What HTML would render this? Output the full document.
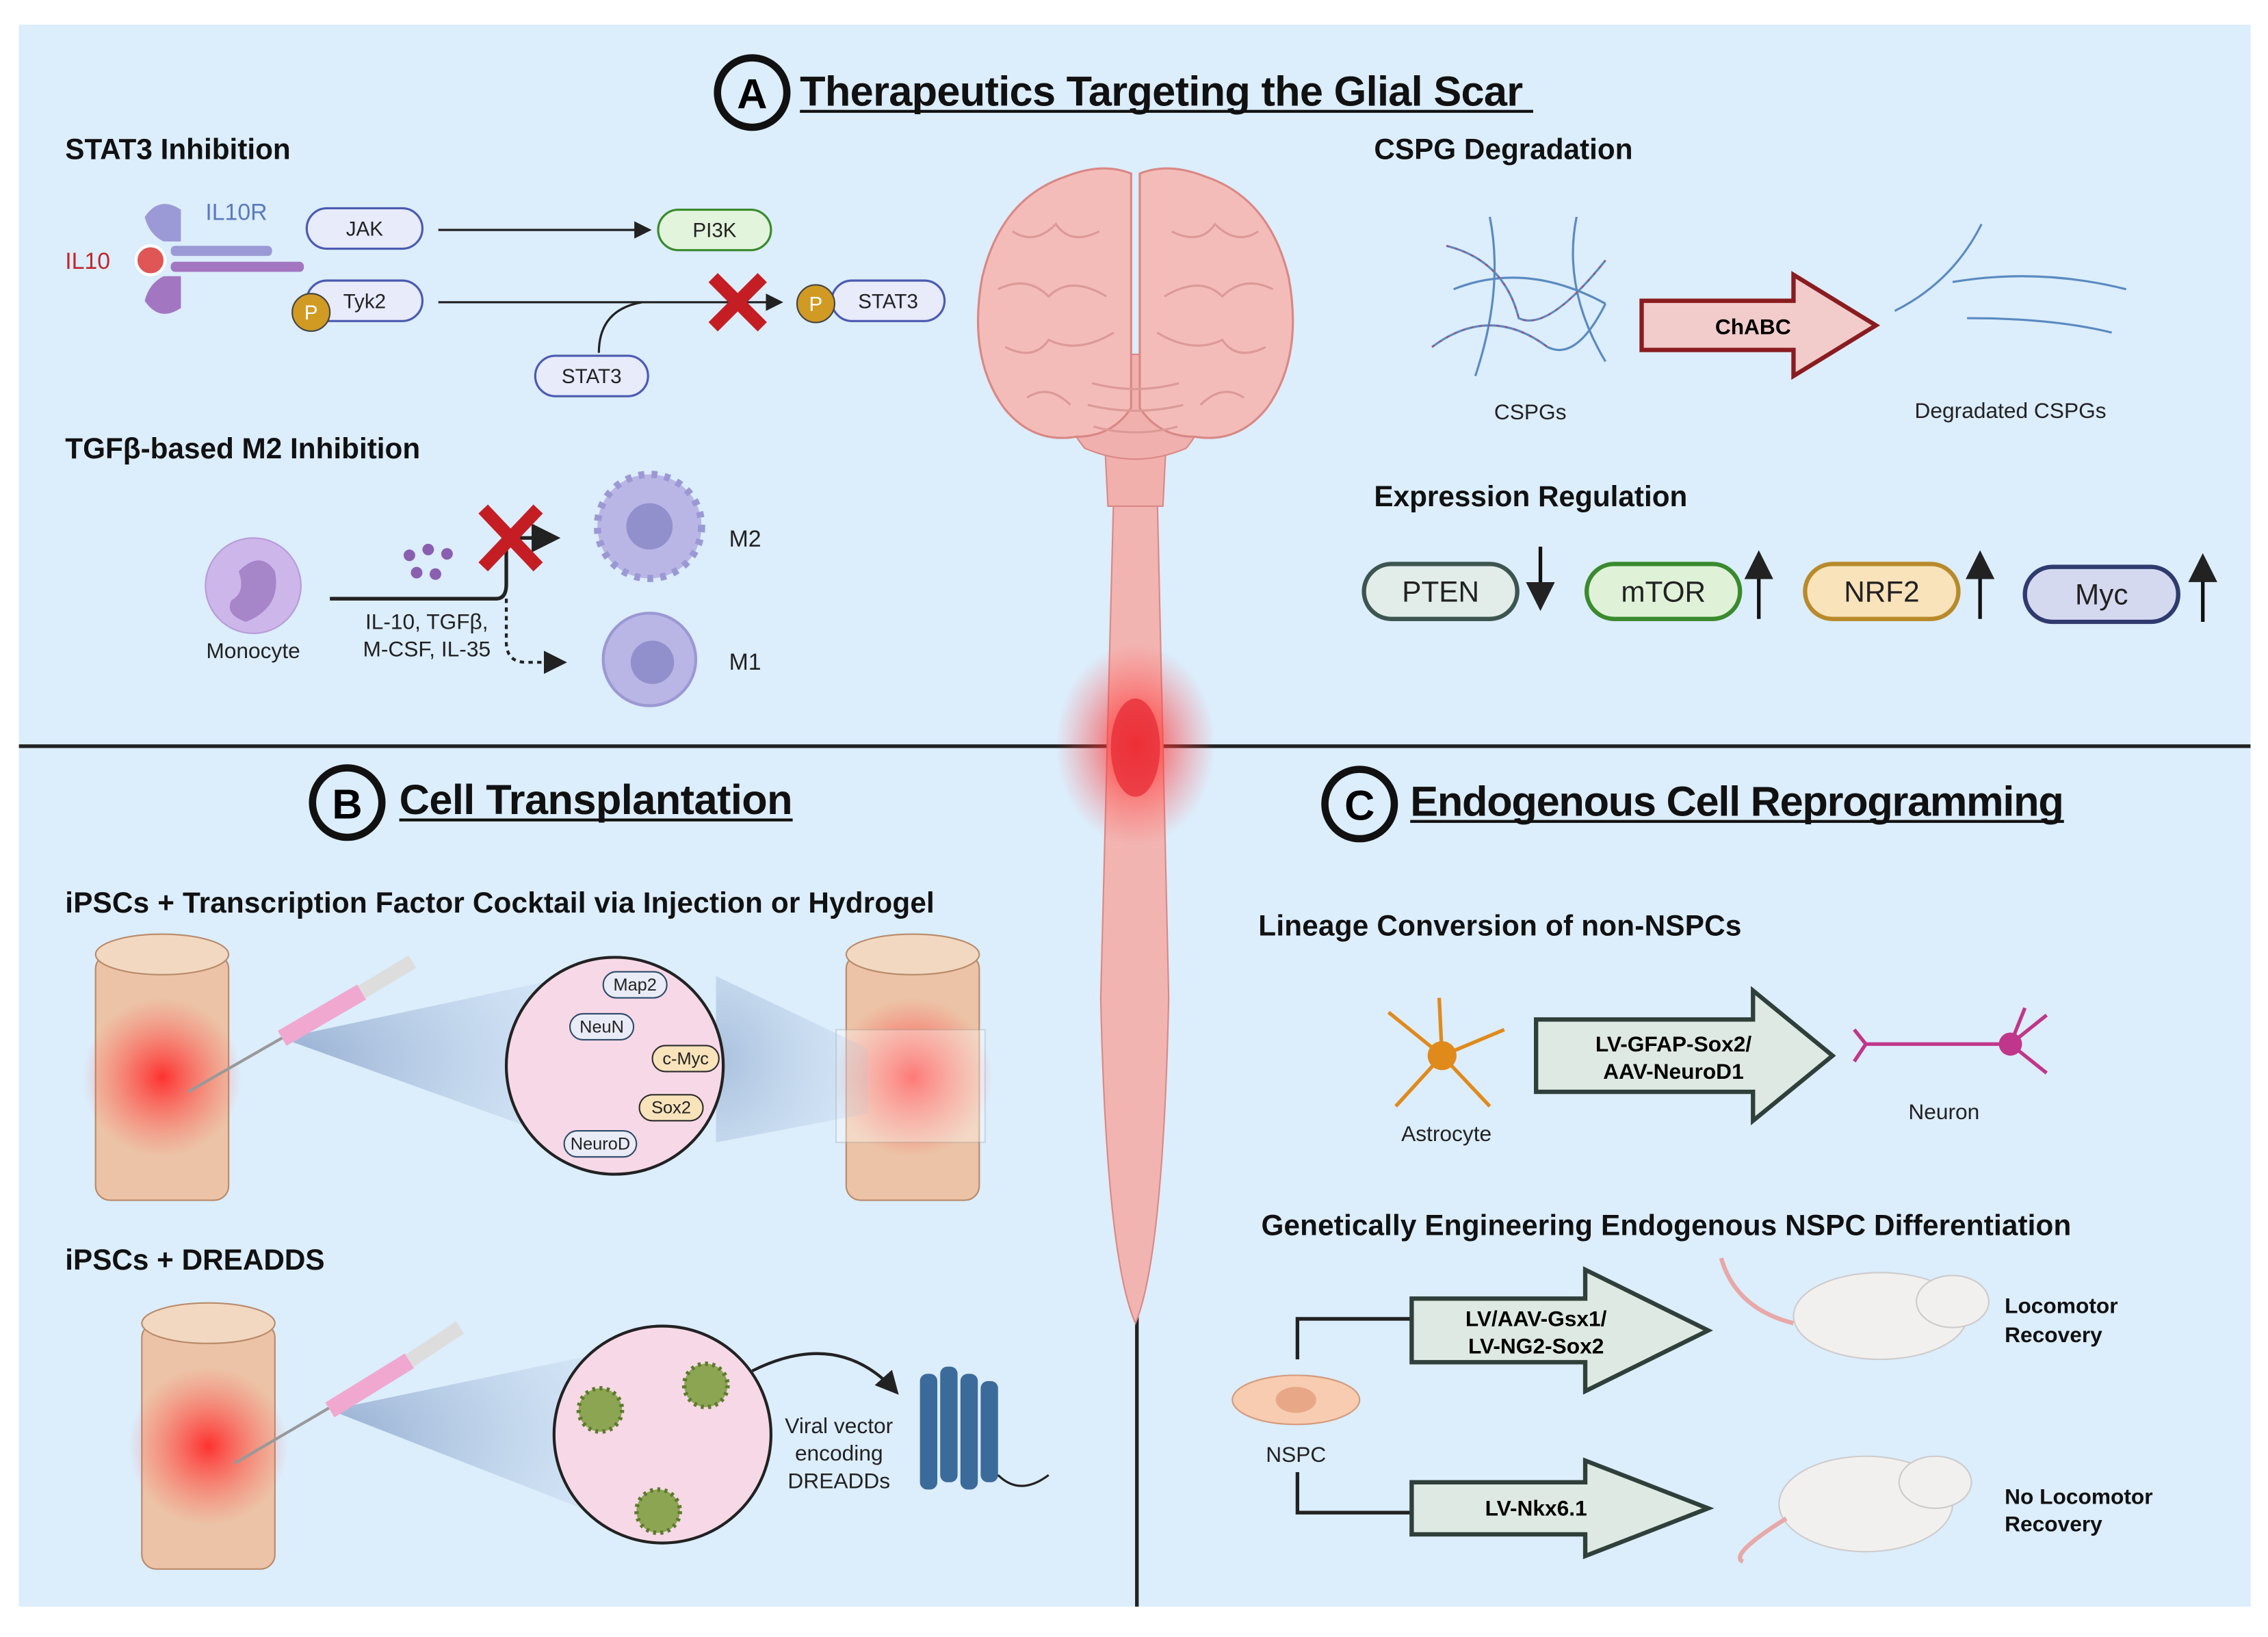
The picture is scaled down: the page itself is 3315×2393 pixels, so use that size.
<!DOCTYPE html>
<html><head><meta charset="utf-8"><style>
html,body{margin:0;padding:0;background:#fff}
svg{display:block}
text{font-family:"Liberation Sans",sans-serif}
.h{font-weight:bold;font-size:20px;fill:#111}
.t{font-size:15px;fill:#222}
.big{font-weight:bold;font-size:29px;fill:#111}
</style></head><body>
<svg width="3315" height="2393" viewBox="0 0 1568 1132" xmlns="http://www.w3.org/2000/svg">
<defs>
<marker id="ar" markerWidth="8" markerHeight="8" refX="7" refY="4" orient="auto"><path d="M0,0L8,4L0,8z" fill="#222"/></marker>
<radialGradient id="red"><stop offset="0" stop-color="#f22" stop-opacity=".9"/><stop offset="1" stop-color="#f55" stop-opacity="0"/></radialGradient>
<radialGradient id="cone" cx="0" cy=".5" r="1"><stop offset="0" stop-color="#6c89b8" stop-opacity=".9"/><stop offset="1" stop-color="#a9c0e0" stop-opacity=".3"/></radialGradient>
</defs>
<rect x="13" y="17" width="1543" height="1094" fill="#dcedfb"/>
<line x1="13" y1="516" x2="1556" y2="516" stroke="#222" stroke-width="2.5"/>
<line x1="786" y1="516" x2="786" y2="1111" stroke="#222" stroke-width="2.5"/>

<circle cx="520" cy="64" r="24" fill="none" stroke="#111" stroke-width="5"/>
<text x="520" y="75" text-anchor="middle" font-size="29" font-weight="bold">A</text>
<text x="553" y="73" class="big" textLength="500">Therapeutics Targeting the Glial Scar</text>
<line x1="553" y1="77" x2="1060" y2="77" stroke="#111" stroke-width="2"/>

<text x="45" y="110" class="h">STAT3 Inhibition</text>
<path d="M100,150 q10,-15 25,-5 v22 h-12 q-10,-5 -13,-17z" fill="#9b9ad6"/>
<path d="M100,208 q10,15 25,5 v-22 h-12 q-10,5 -13,17z" fill="#a276c1"/>
<rect x="118" y="170" width="70" height="7" rx="3" fill="#9b9ad6"/>
<rect x="118" y="181" width="92" height="7" rx="3" fill="#a276c1"/>
<circle cx="104" cy="180" r="10" fill="#e05555" stroke="#fff" stroke-width="2"/>
<text x="142" y="152" font-size="16" fill="#5b7bbd">IL10R</text>
<text x="45" y="186" font-size="16" fill="#c0272d">IL10</text>
<g font-size="14" fill="#222" text-anchor="middle">
<rect x="212" y="144" width="80" height="28" rx="14" fill="#e7ebfa" stroke="#4a5bb0" stroke-width="1.5"/><text x="252" y="163">JAK</text>
<rect x="212" y="194" width="80" height="28" rx="14" fill="#e7ebfa" stroke="#4a5bb0" stroke-width="1.5"/><text x="252" y="213">Tyk2</text>
<circle cx="215" cy="216" r="13" fill="#d19a23" stroke="#444"/><text x="215" y="221" fill="#fff">P</text>
<rect x="455" y="145" width="78" height="28" rx="14" fill="#e2f5dc" stroke="#3a8a2e" stroke-width="1.5"/><text x="494" y="164">PI3K</text>
<rect x="575" y="194" width="78" height="28" rx="14" fill="#e7ebfa" stroke="#4a5bb0" stroke-width="1.5"/><text x="614" y="213">STAT3</text>
<circle cx="564" cy="210" r="13" fill="#d19a23" stroke="#444"/><text x="564" y="215" fill="#fff">P</text>
<rect x="370" y="246" width="78" height="28" rx="14" fill="#e7ebfa" stroke="#4a5bb0" stroke-width="1.5"/><text x="409" y="265">STAT3</text>
</g>
<line x1="303" y1="159" x2="449" y2="159" stroke="#222" stroke-width="1.5" marker-end="url(#ar)"/>
<line x1="303" y1="209" x2="540" y2="209" stroke="#222" stroke-width="1.5" marker-end="url(#ar)"/>
<path d="M414,244 q0,-30 30,-35" fill="none" stroke="#222" stroke-width="1.5"/>
<path d="M493,192 l34,34 M527,192 l-34,34" stroke="#c41e24" stroke-width="9"/>

<text x="45" y="317" class="h">TGFβ-based M2 Inhibition</text>
<ellipse cx="175" cy="405" rx="33" ry="33" fill="#cdb6ea" stroke="#b79cd8"/>
<path d="M165,395 q15,-15 25,0 q5,25 -20,35 q-15,-5 -10,-15 q10,-5 5,-20z" fill="#a685c8"/>
<text x="175" y="455" class="t" text-anchor="middle">Monocyte</text>
<g fill="#8a5fb0"><circle cx="283" cy="384" r="4"/><circle cx="296" cy="380" r="4"/><circle cx="309" cy="383" r="4"/><circle cx="288" cy="396" r="4"/><circle cx="301" cy="397" r="4"/></g>
<path d="M228,414 h115 q7,0 7,-10 v-32 h35" fill="none" stroke="#222" stroke-width="2.5" marker-end="url(#ar)"/>
<path d="M350,414 v30 q0,14 14,14 h26" fill="none" stroke="#222" stroke-width="2" stroke-dasharray="3,3" marker-end="url(#ar)"/>
<path d="M334,352 l38,40 M372,352 l-38,40" stroke="#c41e24" stroke-width="9"/>
<text x="295" y="435" class="t" text-anchor="middle">IL-10, TGFβ,</text>
<text x="295" y="454" class="t" text-anchor="middle">M-CSF, IL-35</text>
<circle cx="449" cy="364" r="36" fill="#b9b6e6" stroke="#9b98d4" stroke-width="5" stroke-dasharray="4,5"/>
<circle cx="449" cy="364" r="16" fill="#918fcc"/>
<circle cx="449" cy="456" r="32" fill="#b9b6e6" stroke="#9b98d4" stroke-width="2"/>
<circle cx="451" cy="458" r="15" fill="#918fcc"/>
<text x="504" y="378" font-size="16" fill="#222">M2</text>
<text x="504" y="463" font-size="16" fill="#222">M1</text>

<!-- brain & cord -->
<path d="M770,340 h30 l8,350 q-4,180 -23,225 q-20,-45 -24,-225z" fill="#f2b4b1" stroke="#d98885"/>
<path d="M762,270 h46 l-4,80 h-38z" fill="#f2b0ad" stroke="#d98885"/>
<path d="M745,250 q40,-10 80,0 q20,30 -5,60 q-35,15 -70,0 q-25,-30 -5,-60z" fill="#f0b0ad" stroke="#d98885"/>
<path d="M782,120 q-20,-8 -45,2 q-45,15 -58,70 q-10,55 15,90 q20,25 50,20 q25,0 38,-20z" fill="#f4bcb9" stroke="#d98885" stroke-width="1.5"/>
<path d="M788,120 q20,-8 45,2 q45,15 58,70 q10,55 -15,90 q-20,25 -50,20 q-25,0 -38,-20z" fill="#f4bcb9" stroke="#d98885" stroke-width="1.5"/>
<g fill="none" stroke="#dc9a97" stroke-width="1.5">
<path d="M700,160 q15,10 30,-5 q10,15 30,5 M690,200 q20,-10 35,5 q15,-15 40,0 M695,240 q20,10 30,-5 q20,10 45,-5 M710,275 q15,-10 30,5"/>
<path d="M870,160 q-15,10 -30,-5 q-10,15 -30,5 M880,200 q-20,-10 -35,5 q-15,-15 -40,0 M875,240 q-20,10 -30,-5 q-20,10 -45,-5 M860,275 q-15,-10 -30,5"/>
<path d="M755,265 q30,8 60,0 M752,280 q33,8 66,0 M756,295 q29,8 58,0"/>
</g>
<ellipse cx="785" cy="515" rx="55" ry="70" fill="url(#red)"/>
<ellipse cx="785" cy="517" rx="17" ry="34" fill="#e8303a" opacity=".8"/>

<text x="950" y="110" class="h">CSPG Degradation</text>
<g stroke="#5a8ac0" stroke-width="1.5" fill="none">
<path d="M1000,170 q40,10 50,50 q20,10 60,-40 M990,240 q40,-30 80,0 q20,10 40,-30 M1030,150 q10,50 -10,110 M1090,150 q-10,50 20,100 M1005,200 q50,-20 105,10"/>
<path d="M1310,215 q40,-20 60,-60 M1350,195 q60,-10 120,5 M1360,220 q60,0 100,10"/>
</g>
<g stroke="#b04a7a" stroke-width="1" fill="none" stroke-dasharray="2,4"><path d="M1000,170 q40,10 50,50 q20,10 60,-40 M990,240 q40,-30 80,0"/></g>
<text x="1058" y="290" class="t" text-anchor="middle">CSPGs</text>
<text x="1390" y="289" class="t" text-anchor="middle">Degradated CSPGs</text>
<path d="M1135,208 h105 v-18 l57,35 l-57,35 v-18 h-105z" fill="#f2cccb" stroke="#8a1c20" stroke-width="3"/>
<text x="1212" y="231" font-size="15" font-weight="bold" text-anchor="middle">ChABC</text>

<text x="950" y="350" class="h">Expression Regulation</text>
<g font-size="20" text-anchor="middle" fill="#222">
<rect x="943" y="390" width="106" height="38" rx="19" fill="#e2ece8" stroke="#3d5550" stroke-width="3"/><text x="996" y="416">PTEN</text>
<rect x="1097" y="390" width="106" height="38" rx="19" fill="#dff2d8" stroke="#3a8a2e" stroke-width="3"/><text x="1150" y="416">mTOR</text>
<rect x="1248" y="390" width="106" height="38" rx="19" fill="#f8e3bb" stroke="#b88a2a" stroke-width="3"/><text x="1301" y="416">NRF2</text>
<rect x="1400" y="392" width="106" height="38" rx="19" fill="#d5d9ef" stroke="#2f3a6e" stroke-width="3"/><text x="1453" y="418">Myc</text>
</g>
<g stroke="#111" stroke-width="2.5"><line x1="1065" y1="378" x2="1065" y2="420" marker-end="url(#ar)"/><line x1="1216" y1="428" x2="1216" y2="383" marker-end="url(#ar)"/><line x1="1369" y1="428" x2="1369" y2="383" marker-end="url(#ar)"/><line x1="1523" y1="430" x2="1523" y2="385" marker-end="url(#ar)"/></g>

<circle cx="240" cy="555" r="24" fill="none" stroke="#111" stroke-width="5"/>
<text x="240" y="566" text-anchor="middle" font-size="29" font-weight="bold">B</text>
<text x="276" y="563" class="big" textLength="272">Cell Transplantation</text>
<line x1="276" y1="567" x2="548" y2="567" stroke="#111" stroke-width="2"/>
<text x="45" y="631" class="h" textLength="601">iPSCs + Transcription Factor Cocktail via Injection or Hydrogel</text>
<text x="45" y="878" class="h">iPSCs + DREADDS</text>
<g>
<rect x="66" y="660" width="92" height="170" rx="10" fill="#ecc3a6" stroke="#b88a6a"/>
<ellipse cx="112" cy="660" rx="46" ry="14" fill="#f2d8c0" stroke="#b88a6a"/>
<ellipse cx="112" cy="745" rx="55" ry="55" fill="url(#red)"/>
<rect x="585" y="660" width="92" height="170" rx="10" fill="#ecc3a6" stroke="#b88a6a"/>
<ellipse cx="631" cy="660" rx="46" ry="14" fill="#f2d8c0" stroke="#b88a6a"/>
<ellipse cx="631" cy="745" rx="55" ry="55" fill="url(#red)"/>
<rect x="578" y="712" width="103" height="78" fill="#fff" opacity=".35" stroke="#aaa"/>
<rect x="98" y="915" width="92" height="170" rx="10" fill="#ecc3a6" stroke="#b88a6a"/>
<ellipse cx="144" cy="915" rx="46" ry="14" fill="#f2d8c0" stroke="#b88a6a"/>
<ellipse cx="144" cy="1000" rx="55" ry="55" fill="url(#red)"/>
</g>
<path d="M195,718 L395,675 L395,790z" fill="url(#cone)" opacity=".7"/>
<path d="M495,675 L600,725 L600,770 L495,790z" fill="url(#cone)" opacity=".5"/>
<path d="M228,975 L420,935 L420,1050z" fill="url(#cone)" opacity=".7"/>
<line x1="130" y1="755" x2="205" y2="712" stroke="#999" stroke-width="2"/>
<line x1="195" y1="718" x2="250" y2="686" stroke="#f0a8d0" stroke-width="12"/>
<line x1="250" y1="686" x2="285" y2="665" stroke="#ddd" stroke-width="10"/>
<line x1="162" y1="1012" x2="237" y2="968" stroke="#999" stroke-width="2"/>
<line x1="228" y1="975" x2="283" y2="941" stroke="#f0a8d0" stroke-width="12"/>
<line x1="283" y1="941" x2="318" y2="918" stroke="#ddd" stroke-width="10"/>
<circle cx="425" cy="737" r="75" fill="#f7d8e6" stroke="#222" stroke-width="2"/>
<g font-size="12" text-anchor="middle" fill="#222">
<rect x="417" y="672" width="44" height="18" rx="9" fill="#e9ecf6" stroke="#2d4a6a"/><text x="439" y="685">Map2</text>
<rect x="394" y="701" width="44" height="18" rx="9" fill="#e9ecf6" stroke="#2d4a6a"/><text x="416" y="714">NeuN</text>
<rect x="451" y="723" width="46" height="18" rx="9" fill="#f8e3bb" stroke="#2d2d2d"/><text x="474" y="736">c-Myc</text>
<rect x="442" y="757" width="44" height="18" rx="9" fill="#f8e3bb" stroke="#2d2d2d"/><text x="464" y="770">Sox2</text>
<rect x="390" y="782" width="50" height="18" rx="9" fill="#e9ecf6" stroke="#2d4a6a"/><text x="415" y="795">NeuroD</text>
</g>
<circle cx="458" cy="992" r="75" fill="#f7d8e6" stroke="#222" stroke-width="2"/>
<g fill="#8ca552" stroke="#5c7a2c" stroke-width="3" stroke-dasharray="2,3"><circle cx="415" cy="975" r="15"/><circle cx="488" cy="958" r="15"/><circle cx="455" cy="1045" r="15"/></g>
<path d="M520,948 q60,-30 100,15" fill="none" stroke="#222" stroke-width="2" marker-end="url(#ar)"/>
<text x="580" y="991" class="t" text-anchor="middle">Viral vector</text>
<text x="580" y="1010" class="t" text-anchor="middle">encoding</text>
<text x="580" y="1029" class="t" text-anchor="middle">DREADDs</text>
<g fill="#3b6b9a"><rect x="636" y="950" width="12" height="80" rx="5"/><rect x="650" y="945" width="12" height="80" rx="5"/><rect x="664" y="950" width="12" height="80" rx="5"/><rect x="678" y="955" width="12" height="70" rx="5"/></g>
<path d="M690,1020 q15,15 35,0" fill="none" stroke="#222" stroke-width="1.5"/>

<circle cx="940" cy="556" r="24" fill="none" stroke="#111" stroke-width="5"/>
<text x="940" y="567" text-anchor="middle" font-size="29" font-weight="bold">C</text>
<text x="975" y="564" class="big" textLength="452">Endogenous Cell Reprogramming</text>
<line x1="975" y1="568" x2="1427" y2="568" stroke="#111" stroke-width="2"/>
<text x="870" y="647" class="h" textLength="334">Lineage Conversion of non-NSPCs</text>
<g stroke="#e08a1c" stroke-width="2.5"><line x1="997" y1="730" x2="960" y2="700"/><line x1="997" y1="730" x2="1040" y2="712"/><line x1="997" y1="730" x2="965" y2="765"/><line x1="997" y1="730" x2="1030" y2="765"/><line x1="997" y1="730" x2="995" y2="690"/></g>
<circle cx="997" cy="730" r="10" fill="#e08a1c"/>
<text x="1000" y="789" class="t" text-anchor="middle">Astrocyte</text>
<path d="M1062,705 h150 v-20 l55,45 l-55,45 v-20 h-150z" fill="#dfe9e4" stroke="#2f3f3a" stroke-width="3"/>
<text x="1157" y="727" font-size="15" font-weight="bold" text-anchor="middle">LV-GFAP-Sox2/</text>
<text x="1157" y="746" font-size="15" font-weight="bold" text-anchor="middle">AAV-NeuroD1</text>
<path d="M1290,722 h100 M1390,722 l25,-20 M1390,722 l25,20 M1390,722 l10,-25 M1290,722 l-8,-10 M1290,722 l-8,12" stroke="#c0368a" stroke-width="2.5" fill="none"/>
<circle cx="1390" cy="722" r="8" fill="#c0368a"/>
<text x="1344" y="774" class="t" text-anchor="middle">Neuron</text>
<text x="872" y="854" class="h" textLength="560">Genetically Engineering Endogenous NSPC Differentiation</text>
<path d="M897,940 v-28 h78 M897,1018 v28 h78" fill="none" stroke="#222" stroke-width="2.5"/>
<ellipse cx="896" cy="968" rx="44" ry="17" fill="#f7ccb0" stroke="#d49a7a"/>
<ellipse cx="896" cy="968" rx="14" ry="9" fill="#e8a888"/>
<text x="896" y="1011" class="t" text-anchor="middle">NSPC</text>
<path d="M976,898 h120 v-20 l85,42 l-85,42 v-20 h-120z" fill="#dfe9e4" stroke="#2f3f3a" stroke-width="3"/>
<text x="1062" y="917" font-size="15" font-weight="bold" text-anchor="middle">LV/AAV-Gsx1/</text>
<text x="1062" y="936" font-size="15" font-weight="bold" text-anchor="middle">LV-NG2-Sox2</text>
<path d="M976,1025 h120 v-15 l85,33 l-85,33 v-15 h-120z" fill="#dfe9e4" stroke="#2f3f3a" stroke-width="3"/>
<text x="1062" y="1048" font-size="15" font-weight="bold" text-anchor="middle">LV-Nkx6.1</text>
<ellipse cx="1300" cy="910" rx="60" ry="30" fill="#f2f0ee" stroke="#ccc"/>
<ellipse cx="1350" cy="900" rx="25" ry="18" fill="#f2f0ee" stroke="#ccc"/>
<path d="M1240,915 q-40,-10 -50,-45" fill="none" stroke="#e8a8a8" stroke-width="3"/>
<ellipse cx="1290" cy="1040" rx="60" ry="33" fill="#f2f0ee" stroke="#ccc"/>
<ellipse cx="1338" cy="1025" rx="25" ry="18" fill="#f2f0ee" stroke="#ccc"/>
<path d="M1235,1050 q-40,25 -30,30" fill="none" stroke="#e8a8a8" stroke-width="3"/>
<g font-size="15" font-weight="bold" fill="#111">
<text x="1386" y="908">Locomotor</text><text x="1386" y="928">Recovery</text>
<text x="1386" y="1040">No Locomotor</text><text x="1386" y="1059">Recovery</text>
</g>
</svg>
</body></html>
